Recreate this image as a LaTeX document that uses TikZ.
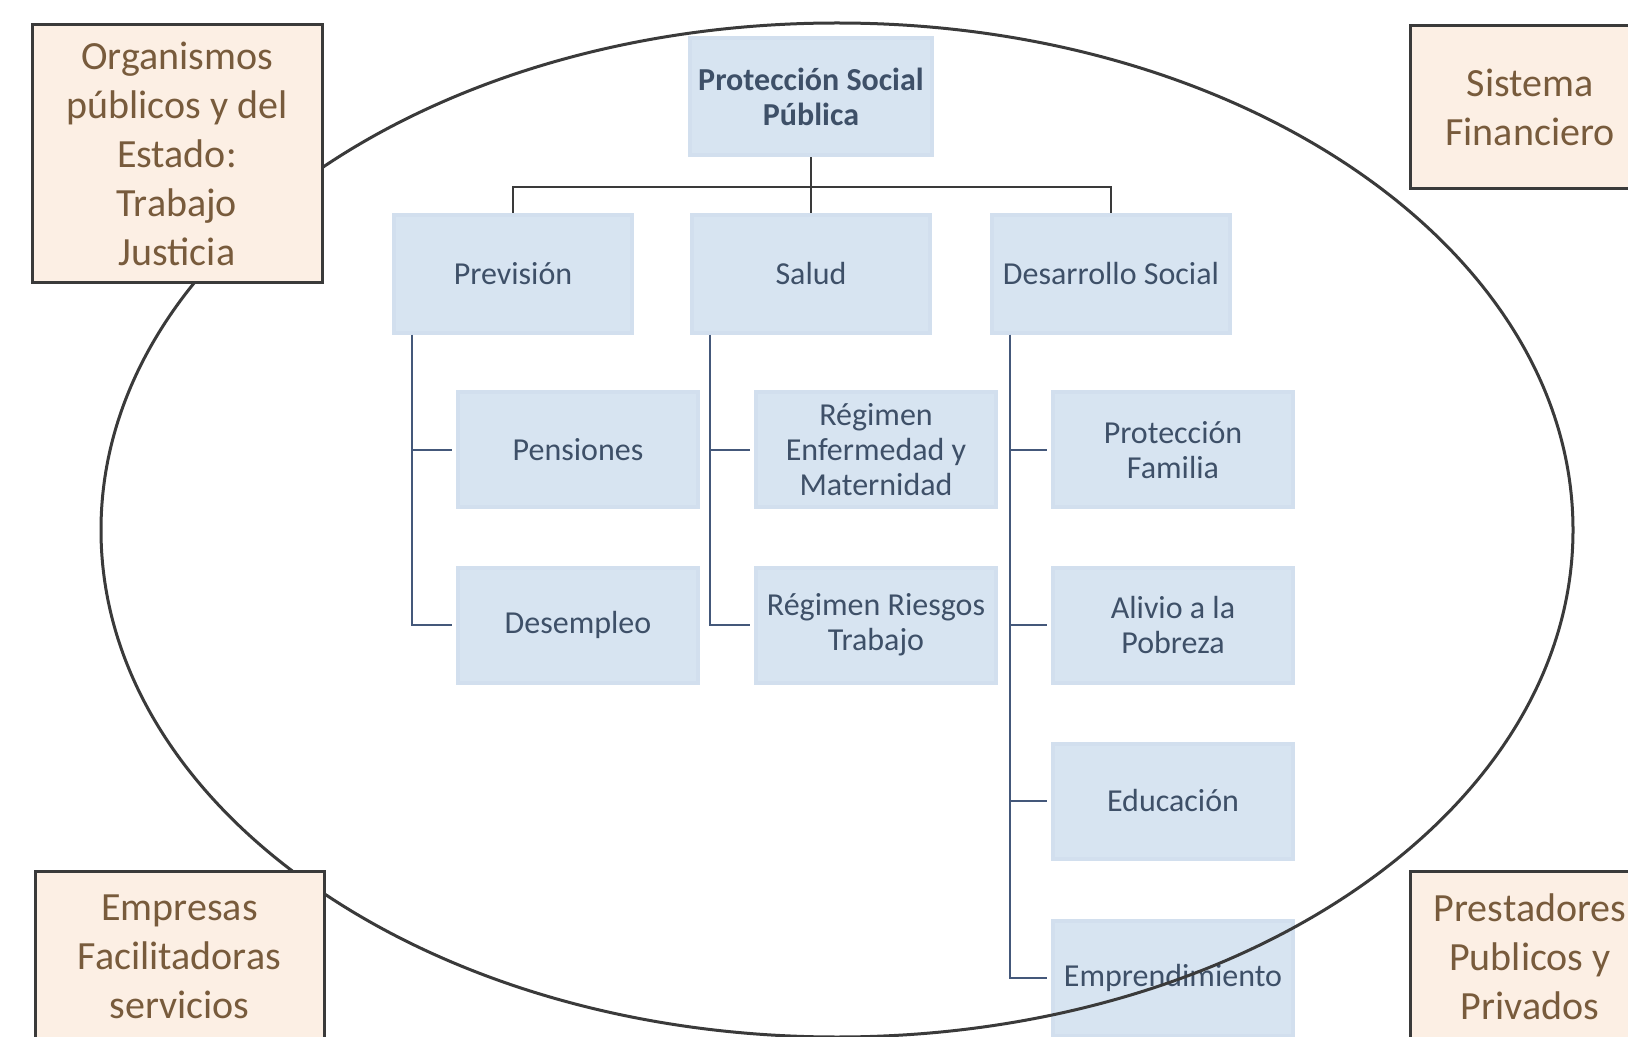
\documentclass[tikz,border=0pt]{standalone}
\usepackage{fontspec}
\setmainfont{Carlito}
\definecolor{boxblue}{HTML}{D7E4F1}
\definecolor{boxedge}{HTML}{D2DFEE}
\definecolor{textblue}{HTML}{3E5068}
\definecolor{peach}{HTML}{FCEFE4}
\definecolor{actortext}{HTML}{785B3C}
\definecolor{linegray}{HTML}{3A3A3A}
\definecolor{branchblue}{HTML}{44587A}
\begin{document}
\begin{tikzpicture}[x=0.5pt,y=-0.5pt,
  area/.style={draw=boxedge,line width=2pt,fill=boxblue,text=textblue,align=center,
    font=\fontsize{16}{17.5}\selectfont,minimum width=119pt,minimum height=59pt,inner sep=2pt},
  sub/.style={area,minimum width=120pt,minimum height=57.5pt},
  actor/.style={draw=linegray,line width=1.5pt,fill=peach,text=actortext,align=center,
    font=\fontsize{20}{24.5}\selectfont,inner sep=0pt},
  link/.style={draw=linegray,line width=1pt},
  branch/.style={draw=branchblue,line width=1pt,shorten >=2pt}]
\useasboundingbox (0,0) rectangle (1628,1037);
\clip (0,0) rectangle (1628,1037);
\fill[white] (0,0) rectangle (1628,1037);

\node[area,minimum width=121pt,minimum height=58.5pt,font=\fontsize{16}{17.5}\selectfont\bfseries] (psp) at (811,97) {Protección Social\\Pública};
\node[area] (prev) at (513,274) {Previsión};
\node[area] (salud) at (811,274) {Salud};
\node[area] (desa) at (1111,274) {Desarrollo Social};

\node[sub] (pens) at (578,450) {Pensiones};
\node[sub] (desem) at (578,625) {Desempleo};
\node[sub] (enf) at (876,450) {Régimen\\Enfermedad y\\Maternidad};
\node[sub] (riesgo) at (876,625) {Régimen Riesgos\\Trabajo};
\node[sub] (fam) at (1173,450) {Protección\\Familia};
\node[sub] (pobreza) at (1173,625) {Alivio a la\\Pobreza};
\node[sub] (edu) at (1173,801) {Educación};
\node[sub] (empr) at (1173,978) {Emprendimiento};

\coordinate (fork) at (811,187);
\draw[link] (psp.south) -- (fork);
\draw[link] (prev.north) |- (fork) -| (desa.north);
\draw[link] (fork) -- (salud.north);

\draw[branch] ([xshift=10pt]prev.south west) |- (pens.west);
\draw[branch] ([xshift=10pt]prev.south west) |- (desem.west);
\draw[branch] ([xshift=10pt]salud.south west) |- (enf.west);
\draw[branch] ([xshift=10pt]salud.south west) |- (riesgo.west);
\draw[branch] ([xshift=10pt]desa.south west) |- (fam.west);
\draw[branch] ([xshift=10pt]desa.south west) |- (pobreza.west);
\draw[branch] ([xshift=10pt]desa.south west) |- (edu.west);
\draw[branch] ([xshift=10pt]desa.south west) |- (empr.west);

\draw[draw=linegray,line width=1.5pt] (837,530) ellipse (368pt and 253.5pt);

\node[actor,minimum width=145pt,minimum height=129pt] (org) at (177,154) {Organismos\\públicos y del\\Estado:\\Trabajo\\Justicia};
\node[actor,minimum width=120pt,minimum height=81.5pt] (fin) at (1530,107) {Sistema\\Financiero};
\node[actor,minimum width=144.5pt,minimum height=86pt] (emp) at (179.5,957) {Empresas\\Facilitadoras\\servicios};
\node[actor,minimum width=120pt,minimum height=86pt] (prest) at (1530,957) {Prestadores\\Publicos y\\Privados};
\end{tikzpicture}
\end{document}
